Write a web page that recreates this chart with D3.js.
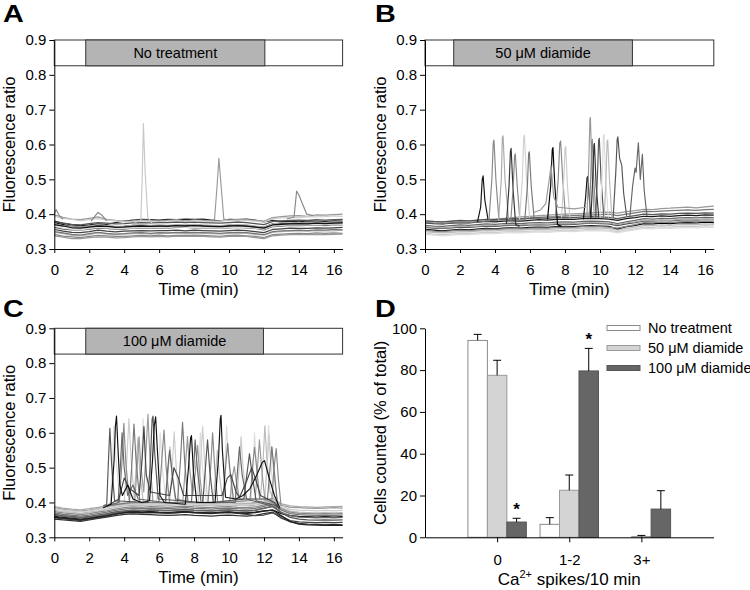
<!DOCTYPE html>
<html><head><meta charset="utf-8">
<script src="https://cdn.jsdelivr.net/npm/d3@7"></script>
<style>
body{margin:0;background:#fff}
svg{display:block}
text{font-family:"Liberation Sans",Arial,Helvetica,sans-serif;fill:#000}
</style>
</head><body>
<svg id="chart" width="750" height="590"></svg>
<script>
// ---------------- DATA ----------------
const timeGrid = [0,0.5,1,1.5,2,2.5,3,3.5,4,4.5,5,5.5,6,6.5,7,7.5,8,8.5,9,9.5,10,10.5,11,11.5,12,12.5,13,13.5,14,14.5,15,15.5,16,16.5];
const timeTicks = [0,2,4,6,8,10,12,14,16];
const ratioTicks = [0.3,0.4,0.5,0.6,0.7,0.8,0.9];
const panelLetters = ["A","B","C","D"];
const treatmentLabels = ["No treatment","50 \u03BCM diamide","100 \u03BCM diamide"];
const treatmentStart = [1.8, 1.64, 1.8];
const treatmentEnd = [12.05, 11.85, 11.97];

// Panel A baseline traces (fluorescence ratio x 1000, sampled on timeGrid)
const A_colors = ["#000","#222","#999","#ccc","#666","#bbb","#888","#444","#aaa","#777","#ddd","#555","#999","#111"];
const A_traces = [
 [376,370,364,362,365,369,366,364,365,368,367,366,367,366,368,367,369,367,366,366,368,367,366,364,362,372,374,373,375,374,376,374,375,376],
 [380,374,369,367,369,372,371,376,380,383,385,384,383,385,384,386,385,386,383,381,385,384,386,383,378,382,379,380,378,381,380,379,381,380],
 [398,391,386,384,388,392,385,382,380,381,383,382,380,382,384,381,383,382,380,381,383,385,384,382,380,390,393,395,396,394,398,397,399,400],
 [394,388,385,381,384,387,383,381,378,379,381,379,377,380,381,378,382,380,379,380,382,379,382,380,377,387,389,391,390,393,392,393,395,394],
 [362,357,355,354,357,360,359,356,357,360,361,359,361,360,362,362,361,361,360,359,361,362,361,359,355,364,366,368,367,368,369,367,370,369],
 [348,344,339,338,341,346,343,341,343,344,345,343,345,345,346,344,346,345,344,343,345,346,345,342,340,348,350,352,351,351,353,352,352,354],
 [342,337,335,333,336,339,338,336,336,338,339,338,340,338,339,339,340,339,338,336,339,340,338,336,333,341,343,344,345,344,346,345,346,345],
 [356,351,348,347,350,354,351,349,351,352,353,352,353,353,354,352,354,353,352,351,353,354,353,350,347,356,358,360,359,359,361,360,361,362],
 [373,367,364,362,366,370,367,365,366,368,370,368,369,368,370,369,371,369,368,367,369,370,369,366,363,372,375,375,376,375,377,376,378,377],
 [350,346,342,340,344,348,345,343,344,346,347,345,347,346,348,347,348,347,346,345,347,348,347,344,341,350,352,353,354,353,355,354,356,355],
 [367,360,357,355,359,362,361,358,359,361,362,361,362,361,364,362,363,362,361,360,362,363,362,360,357,366,368,370,369,369,371,370,372,371],
 [378,374,371,369,373,376,374,372,373,375,376,375,376,376,377,376,377,376,375,374,376,377,376,373,370,379,381,382,383,382,384,383,384,385],
 [338,334,330,330,333,335,334,332,333,335,336,335,336,335,337,336,337,336,335,334,336,337,336,333,330,338,340,341,341,341,342,341,342,343],
 [370,366,361,360,363,366,365,362,363,365,366,365,366,366,367,366,367,366,365,364,366,367,366,363,360,369,371,372,373,372,374,373,374,375]
];
// Panel A transient traces: [time (min), ratio]
const A_spikeColors = ["#c8c8c8","#999","#888","#888","#888"];
const A_spikes = [
 [[4.6,0.376],[4.95,0.382],[5.03,0.50],[5.1,0.66],[5.2,0.52],[5.35,0.39],[5.6,0.374]],
 [[8.9,0.382],[9.17,0.385],[9.3,0.47],[9.42,0.56],[9.55,0.48],[9.7,0.386],[10.0,0.383]],
 [[13.3,0.386],[13.72,0.392],[13.87,0.466],[14.0,0.455],[14.2,0.43],[14.45,0.40],[14.8,0.396]],
 [[0,0.400],[0.1,0.413],[0.3,0.395],[0.5,0.385]],
 [[2.1,0.380],[2.5,0.405],[2.75,0.396],[3.0,0.381]]
];

// Panel B baseline traces (ratio x 1000)
const B_colors = ["#1a1a1a","#444","#999","#777","#bbb","#ccc","#666","#000","#888","#aaa","#555","#ddd"];
const B_traces = [
 [375,373,372,374,376,375,377,379,378,380,381,380,382,384,383,385,386,385,387,388,387,386,382,387,390,394,393,395,394,396,397,396,398,397],
 [362,360,359,361,363,362,364,366,365,367,368,367,369,370,369,371,372,371,373,374,373,372,367,372,376,381,380,382,381,383,384,383,385,384],
 [380,378,377,379,381,380,382,384,386,388,390,392,394,396,397,399,400,401,402,404,405,406,403,407,410,414,413,416,417,419,420,418,421,423],
 [376,374,373,375,377,376,378,380,382,384,385,387,389,391,392,393,395,396,397,398,399,400,396,400,404,408,407,409,410,411,412,411,413,414],
 [350,348,346,348,350,349,351,353,352,354,355,354,356,357,356,358,359,358,360,361,360,359,354,359,363,368,367,369,368,370,371,370,372,371],
 [346,343,341,343,345,344,346,348,347,349,350,349,351,352,351,353,354,353,355,356,355,354,349,354,358,363,362,364,363,365,366,365,367,366],
 [368,366,365,367,369,368,370,372,371,373,374,373,375,376,375,377,378,377,379,380,379,378,373,378,382,387,386,388,387,389,390,389,391,390],
 [356,354,352,354,356,355,357,359,358,360,361,360,362,363,362,364,365,364,366,367,366,365,358,364,368,373,372,374,373,375,376,375,377,376],
 [354,351,350,352,354,353,355,357,356,358,359,358,360,361,360,362,363,362,364,365,364,363,360,365,370,376,375,377,376,378,379,378,380,379],
 [364,362,361,363,365,364,366,368,367,369,370,369,371,372,371,373,374,373,375,376,375,374,370,375,378,382,381,383,382,384,385,384,386,385],
 [381,379,378,380,382,381,383,385,384,386,387,386,388,389,388,390,391,390,392,393,392,391,387,392,396,400,399,401,400,402,403,402,404,403],
 [342,340,338,340,342,341,343,345,344,346,347,346,348,349,348,350,351,350,352,353,352,351,346,351,355,359,358,360,359,361,362,361,363,362]
];
const B_spikeColors = ["#111","#888","#aaa","#333","#888","#d0d0d0","#777","#000","#888","#ccc","#111","#999","#888","#333","#555","#ddd","#bbb","#555","#666","#999"];
const B_spikes = [
 [[3.0,0.378],[3.18,0.42],[3.27,0.50],[3.32,0.51],[3.42,0.44],[3.6,0.385]],
 [[3.65,0.380],[3.82,0.50],[3.9,0.605],[3.94,0.613],[4.05,0.50],[4.22,0.385]],
 [[4.2,0.380],[4.36,0.50],[4.42,0.62],[4.46,0.625],[4.57,0.50],[4.78,0.385]],
 [[4.65,0.372],[4.8,0.48],[4.88,0.58],[4.92,0.589],[5.02,0.48],[5.18,0.37],[5.4,0.365]],
 [[4.9,0.380],[5.04,0.48],[5.12,0.568],[5.16,0.573],[5.27,0.48],[5.42,0.385]],
 [[5.4,0.385],[5.56,0.50],[5.64,0.62],[5.68,0.627],[5.8,0.50],[5.98,0.39]],
 [[5.7,0.383],[5.85,0.48],[5.92,0.574],[5.96,0.579],[6.07,0.48],[6.24,0.385]],
 [[7.0,0.385],[7.18,0.48],[7.27,0.585],[7.31,0.591],[7.42,0.48],[7.57,0.37],[7.8,0.365]],
 [[7.45,0.390],[7.61,0.50],[7.7,0.604],[7.75,0.61],[7.87,0.50],[8.03,0.39]],
 [[7.8,0.390],[7.93,0.50],[8.0,0.59],[8.04,0.594],[8.14,0.48],[8.28,0.39]],
 [[9.05,0.385],[9.18,0.45],[9.26,0.505],[9.3,0.508],[9.38,0.45],[9.48,0.39]],
 [[9.25,0.390],[9.36,0.55],[9.42,0.672],[9.45,0.678],[9.54,0.52],[9.68,0.39]],
 [[9.38,0.390],[9.48,0.52],[9.53,0.61],[9.56,0.615],[9.64,0.50],[9.78,0.39]],
 [[9.48,0.390],[9.58,0.50],[9.65,0.598],[9.68,0.603],[9.78,0.48],[9.93,0.39]],
 [[9.75,0.390],[9.86,0.52],[9.92,0.612],[9.96,0.618],[10.06,0.50],[10.22,0.39]],
 [[10.0,0.390],[10.13,0.52],[10.19,0.624],[10.23,0.629],[10.32,0.50],[10.48,0.39]],
 [[10.24,0.390],[10.34,0.50],[10.4,0.608],[10.44,0.613],[10.54,0.50],[10.68,0.39]],
 [[10.75,0.390],[10.9,0.52],[10.98,0.615],[11.02,0.622],[11.12,0.56],[11.24,0.541],[11.35,0.46],[11.52,0.395]],
 [[11.7,0.390],[11.86,0.48],[12.0,0.532],[12.06,0.52],[12.12,0.56],[12.19,0.605],[12.3,0.50],[12.42,0.572],[12.52,0.47],[12.68,0.395]],
 [[6.2,0.405],[6.6,0.412],[6.9,0.43],[7.1,0.50],[7.2,0.54],[7.35,0.45],[7.6,0.42],[8.5,0.415],[9.2,0.42]]
];

// Panel C baseline traces (ratio x 1000)
const C_colors = ["#111","#333","#999","#bbb","#777","#555","#ccc","#444","#888","#aaa","#222","#666"];
const C_traces = [
 [360,357,355,352,356,360,364,370,374,375,373,374,372,371,373,374,372,371,370,372,373,371,370,372,376,378,368,362,360,359,358,359,358,359],
 [352,350,348,346,350,354,358,362,366,367,366,365,364,363,364,365,363,362,361,363,364,362,361,363,368,372,355,345,340,338,337,336,337,336],
 [385,380,377,375,378,382,387,392,395,397,396,398,397,396,398,399,397,396,395,397,398,396,395,397,402,408,392,386,385,384,383,384,385,384],
 [378,374,372,369,372,376,381,386,390,392,391,393,392,391,393,394,392,391,390,392,393,391,390,392,398,404,385,375,372,371,370,371,370,371],
 [370,366,364,361,364,368,372,377,381,383,382,384,383,382,384,385,383,382,381,383,384,382,381,383,389,396,378,368,365,364,363,364,363,364],
 [366,362,360,357,360,364,368,373,376,378,377,379,378,377,379,380,378,377,376,378,379,377,376,378,384,388,370,357,352,350,349,350,349,350],
 [382,378,376,373,376,380,385,390,394,396,395,397,396,395,397,398,396,395,394,396,397,395,394,396,402,410,390,380,378,377,376,377,376,377],
 [356,353,351,348,352,356,360,366,370,371,370,371,370,369,370,372,370,369,368,370,371,369,366,362,364,370,360,348,344,343,342,343,342,343],
 [374,370,368,365,368,372,376,381,385,387,386,388,387,386,388,389,387,386,385,387,388,386,385,387,393,400,382,372,369,368,367,368,367,368],
 [388,384,381,379,382,386,390,394,398,400,399,401,400,399,401,402,400,399,398,400,401,399,398,400,405,411,396,390,388,387,386,387,388,389],
 [358,355,353,350,354,358,362,367,371,372,371,372,371,370,371,373,371,370,369,371,372,370,369,371,375,378,362,345,338,336,335,334,335,334],
 [364,360,358,355,358,362,366,371,375,377,376,378,377,376,378,379,377,376,375,377,378,376,375,377,383,390,372,362,358,357,356,357,356,357]
];
const C_spikeColors = ["#ddd","#bbb","#ccc","#999","#888","#777","#666","#555","#444","#111"];
const C_spikes = [
 [[3.0,0.39],[3.2,0.40],[3.33,0.52],[3.42,0.62],[3.54,0.52],[3.75,0.40],[4.85,0.40],[5.0,0.52],[5.08,0.64],[5.2,0.52],[5.4,0.40],[5.85,0.40],[5.98,0.50],[6.06,0.60],[6.18,0.50],[6.4,0.40],[8.15,0.40],[8.28,0.50],[8.36,0.60],[8.48,0.50],[8.7,0.40],[9.65,0.40],[9.78,0.52],[9.86,0.62],[9.98,0.52],[10.2,0.40],[11.25,0.40],[11.38,0.50],[11.46,0.60],[11.58,0.50],[11.8,0.40],[12.05,0.41],[12.18,0.52],[12.26,0.62],[12.38,0.52],[12.6,0.40],[12.9,0.385]],
 [[3.0,0.39],[4.55,0.40],[4.68,0.50],[4.78,0.585],[4.9,0.48],[5.1,0.40],[6.4,0.40],[6.53,0.50],[6.62,0.56],[6.74,0.48],[6.95,0.40],[9.1,0.40],[9.23,0.48],[9.33,0.55],[9.45,0.48],[9.65,0.40],[11.8,0.41],[11.95,0.52],[12.05,0.62],[12.17,0.52],[12.35,0.43],[12.8,0.39]],
 [[3.0,0.39],[4.0,0.40],[4.15,0.52],[4.27,0.641],[4.4,0.52],[4.6,0.40],[6.6,0.40],[6.75,0.50],[6.86,0.603],[6.98,0.50],[7.15,0.40],[8.25,0.40],[8.38,0.52],[8.49,0.618],[8.6,0.52],[8.78,0.40],[10.45,0.405],[10.58,0.50],[10.69,0.589],[10.8,0.50],[11.0,0.41],[12.05,0.41],[12.2,0.52],[12.3,0.594],[12.38,0.52],[12.45,0.56],[12.56,0.48],[12.82,0.39]],
 [[3.0,0.39],[4.6,0.40],[4.74,0.50],[4.85,0.589],[4.96,0.50],[5.12,0.43],[5.22,0.52],[5.36,0.653],[5.48,0.52],[5.65,0.40],[7.35,0.40],[7.5,0.50],[7.62,0.589],[7.74,0.50],[7.92,0.42],[8.06,0.48],[8.2,0.564],[8.32,0.48],[8.5,0.40],[10.05,0.405],[10.18,0.47],[10.3,0.503],[10.42,0.46],[10.6,0.41],[11.5,0.41],[11.63,0.50],[11.74,0.58],[11.86,0.50],[12.05,0.41],[12.8,0.39]],
 [[2.9,0.39],[3.72,0.40],[3.88,0.52],[3.98,0.627],[4.1,0.51],[4.3,0.40],[5.98,0.40],[6.15,0.52],[6.28,0.608],[6.4,0.50],[6.6,0.40],[8.8,0.40],[8.95,0.50],[9.06,0.60],[9.18,0.50],[9.35,0.40],[11.2,0.405],[11.34,0.50],[11.46,0.558],[11.58,0.50],[11.75,0.41],[12.45,0.41],[12.58,0.50],[12.7,0.555],[12.82,0.47],[12.98,0.39]],
 [[3.0,0.39],[4.3,0.40],[4.45,0.52],[4.56,0.625],[4.68,0.52],[4.9,0.40],[7.05,0.40],[7.22,0.52],[7.34,0.63],[7.46,0.52],[7.65,0.40],[9.65,0.40],[9.8,0.50],[9.92,0.57],[10.04,0.50],[10.25,0.41],[12.2,0.41],[12.35,0.50],[12.45,0.56],[12.57,0.50],[12.78,0.39]],
 [[3.0,0.39],[3.65,0.40],[3.8,0.52],[3.88,0.60],[4.0,0.50],[4.2,0.42],[4.5,0.45],[4.8,0.41],[6.35,0.40],[6.5,0.50],[6.6,0.55],[6.75,0.48],[6.95,0.41],[7.85,0.40],[7.98,0.50],[8.06,0.58],[8.18,0.50],[8.4,0.40],[10.35,0.40],[10.5,0.50],[10.6,0.56],[10.75,0.48],[11.0,0.41],[12.8,0.385]],
 [[2.8,0.39],[3.0,0.395],[3.1,0.52],[3.18,0.613],[3.28,0.51],[3.45,0.405],[5.35,0.40],[5.5,0.52],[5.6,0.64],[5.65,0.648],[5.75,0.54],[5.95,0.41],[8.5,0.40],[8.65,0.50],[8.77,0.58],[8.9,0.49],[9.1,0.40],[10.85,0.41],[11.02,0.48],[11.17,0.54],[11.32,0.48],[11.55,0.405],[12.8,0.39]],
 [[3.0,0.39],[3.7,0.41],[4.0,0.47],[4.3,0.44],[4.85,0.42],[5.02,0.52],[5.13,0.618],[5.26,0.48],[5.5,0.43],[6.6,0.42],[6.85,0.50],[7.1,0.47],[7.4,0.42],[9.6,0.42],[9.9,0.47],[10.1,0.48],[10.4,0.43],[10.6,0.415],[11.0,0.46],[11.3,0.50],[11.5,0.47],[11.8,0.42],[12.6,0.40],[12.9,0.38]],
 [[2.8,0.385],[3.25,0.395],[3.42,0.52],[3.5,0.62],[3.56,0.648],[3.64,0.56],[3.75,0.45],[3.9,0.42],[4.2,0.45],[4.5,0.41],[5.0,0.40],[5.45,0.405],[5.62,0.52],[5.72,0.62],[5.8,0.646],[5.9,0.55],[6.05,0.42],[6.3,0.40],[7.5,0.395],[7.68,0.50],[7.8,0.585],[7.85,0.592],[7.96,0.49],[8.15,0.40],[9.2,0.40],[9.4,0.53],[9.5,0.64],[9.54,0.65],[9.62,0.55],[9.8,0.415],[10.4,0.41],[10.8,0.42],[11.2,0.44],[11.6,0.48],[11.9,0.515],[12.03,0.52],[12.3,0.47],[12.6,0.42],[12.9,0.385]]
];

// Panel D
const spikeCategories = ["0","1-2","3+"];
const seriesNames = ["No treatment","50 \u03BCM diamide","100 \u03BCM diamide"];
const pctNoTreatment = [94.2, 6.2, 0];
const seNoTreatment  = [2.9, 3.2, 0];
const pct50 = [77.5, 22.5, 0.4];
const se50  = [7.2, 7.3, 0.5];
const pct100 = [7.3, 79.6, 13.5];
const se100  = [1.8, 10.8, 8.8];
const significant100 = [true, true, false];
const pctTicks = [0,20,40,60,80,100];
const barFills = ["#ffffff","#d4d4d4","#666666"];
const barStrokes = ["#8a8a8a","#9a9a9a","#555555"];

// ---------------- DRAW ----------------
const svg = d3.select("#chart");
const FONT = "'Liberation Sans',Arial,Helvetica,sans-serif";

function styleAxis(g, size){
  g.attr("font-family", FONT).attr("font-size", size);
  g.selectAll("path.domain").attr("stroke","#000");
  g.selectAll(".tick line").attr("stroke","#000");
  g.selectAll(".tick text").attr("fill","#000");
}

function tracePanel(idx, x0, x1, yTop, yBot, baseColors, baseTraces, spColors, spikes){
  const x = d3.scaleLinear().domain([0,16.5]).range([x0,x1]);
  const y = d3.scaleLinear().domain([0.3,0.9]).range([yBot,yTop]);
  const g = svg.append("g");
  const line = d3.line().x(d=>x(d[0])).y(d=>y(d[1]));

  baseTraces.forEach((tr,i)=>{
    const pts = tr.map((v,j)=>[timeGrid[j], v/1000]);
    g.append("path").attr("d", line(pts)).attr("fill","none")
      .attr("stroke", baseColors[i]).attr("stroke-width",1.25).attr("stroke-linejoin","round");
  });
  spikes.forEach((sp,i)=>{
    g.append("path").attr("d", line(sp)).attr("fill","none")
      .attr("stroke", spColors[i]).attr("stroke-width",1.15).attr("stroke-linejoin","round");
  });

  // treatment box
  const boxBottom = 0.826;
  g.append("rect").attr("x", x(0)).attr("y", y(0.9)).attr("width", x(16.5)-x(0))
    .attr("height", y(boxBottom)-y(0.9)).attr("fill","#fff").attr("stroke","#333").attr("stroke-width",1);
  g.append("rect").attr("x", x(treatmentStart[idx])).attr("y", y(0.9))
    .attr("width", x(treatmentEnd[idx])-x(treatmentStart[idx]))
    .attr("height", y(boxBottom)-y(0.9)).attr("fill","#b4b4b4").attr("stroke","#333").attr("stroke-width",1);
  g.append("text").attr("x", (x(treatmentStart[idx])+x(treatmentEnd[idx]))/2)
    .attr("y", (y(0.9)+y(boxBottom))/2 + 5).attr("text-anchor","middle")
    .attr("font-size",14.5).text(treatmentLabels[idx]);

  const ax = g.append("g").attr("transform",`translate(0,${yBot})`)
    .call(d3.axisBottom(x).tickValues(timeTicks).tickSize(4).tickPadding(11).tickSizeOuter(0));
  styleAxis(ax, 15);
  const ay = g.append("g").attr("transform",`translate(${x0},0)`)
    .call(d3.axisLeft(y).tickValues(ratioTicks).tickSize(5).tickPadding(3).tickSizeOuter(0).tickFormat(d3.format(".1f")));
  styleAxis(ay, 15);

  g.append("text").attr("x",(x0+x1)/2).attr("y", yBot+46).attr("text-anchor","middle")
    .attr("font-size",17).text("Time (min)");
  g.append("text").attr("transform",`translate(${x0-39},${(yTop+yBot)/2}) rotate(-90)`)
    .attr("text-anchor","middle").attr("font-size",16.5).text("Fluorescence ratio");
}

tracePanel(0, 54.3, 342.6, 40, 249, A_colors, A_traces, A_spikeColors, A_spikes);
tracePanel(1, 425, 713.8, 40, 249, B_colors, B_traces, B_spikeColors, B_spikes);
tracePanel(2, 54.3, 342.6, 328.3, 537.3, C_colors, C_traces, C_spikeColors, C_spikes);

// Panel D
(function(){
  const x = d3.scaleLinear().domain([-1,3]).range([425,713.5]);
  const y = d3.scaleLinear().domain([0,100]).range([537.3,328.3]);
  const g = svg.append("g");
  const bw = 0.27;
  const series = [
    {v:pctNoTreatment, e:seNoTreatment},
    {v:pct50, e:se50},
    {v:pct100, e:se100}
  ];
  series.forEach((s,si)=>{
    s.v.forEach((val,ci)=>{
      if(val<=0) return;
      const cx = x(ci + (si-1)*bw);
      const w = x(bw)-x(0);
      const top = y(val);
      g.append("rect").attr("x", cx-w/2).attr("y", top).attr("width", w)
        .attr("height", y(0)-top).attr("fill", barFills[si]).attr("stroke", barStrokes[si]).attr("stroke-width",1);
      if(s.e[ci]>0){
        const et = y(val + s.e[ci]);
        g.append("line").attr("x1",cx).attr("x2",cx).attr("y1",top).attr("y2",et).attr("stroke","#000");
        g.append("line").attr("x1",cx-4).attr("x2",cx+4).attr("y1",et).attr("y2",et).attr("stroke","#000");
        if(si===2 && significant100[ci]){
          g.append("text").attr("x",cx).attr("y",et-3).attr("text-anchor","middle")
            .attr("font-size",17).attr("font-weight","bold").text("*");
        }
      }
    });
  });
  const ax = g.append("g").attr("transform",`translate(0,${y(0)})`)
    .call(d3.axisBottom(x).tickValues([0,1,2]).tickFormat((d,i)=>spikeCategories[i]).tickSize(5).tickPadding(12).tickSizeOuter(0));
  styleAxis(ax, 15);
  const ay = g.append("g").attr("transform",`translate(${x(-1)},0)`)
    .call(d3.axisLeft(y).tickValues(pctTicks).tickSize(5).tickPadding(3).tickSizeOuter(0));
  styleAxis(ay, 15);

  seriesNames.forEach((n,i)=>{
    const cy = 328 + i*20;
    g.append("rect").attr("x",607).attr("y",cy-2.5).attr("width",33).attr("height",5)
      .attr("fill",barFills[i]).attr("stroke",barStrokes[i]);
    g.append("text").attr("x",648).attr("y",cy+5).attr("font-size",14.5).text(n);
  });

  const xl = g.append("text").attr("x",(x(-1)+x(3))/2).attr("y",585).attr("text-anchor","middle").attr("font-size",17);
  xl.append("tspan").text("Ca");
  xl.append("tspan").attr("font-size",11).attr("dy",-7).text("2+");
  xl.append("tspan").attr("dy",7).text(" spikes/10 min");
  g.append("text").attr("transform",`translate(${x(-1)-39},${(y(0)+y(100))/2}) rotate(-90)`)
    .attr("text-anchor","middle").attr("font-size",16.5).text("Cells counted (% of total)");
})();

const letterPos = [[3,22],[375,22],[3,317],[375,317]];
panelLetters.forEach((L,i)=>{
  svg.append("text").attr("transform",`translate(${letterPos[i][0]},${letterPos[i][1]}) scale(1.2,1)`)
    .attr("font-size",24).attr("font-weight","bold").text(L);
});
</script>
</body></html>
